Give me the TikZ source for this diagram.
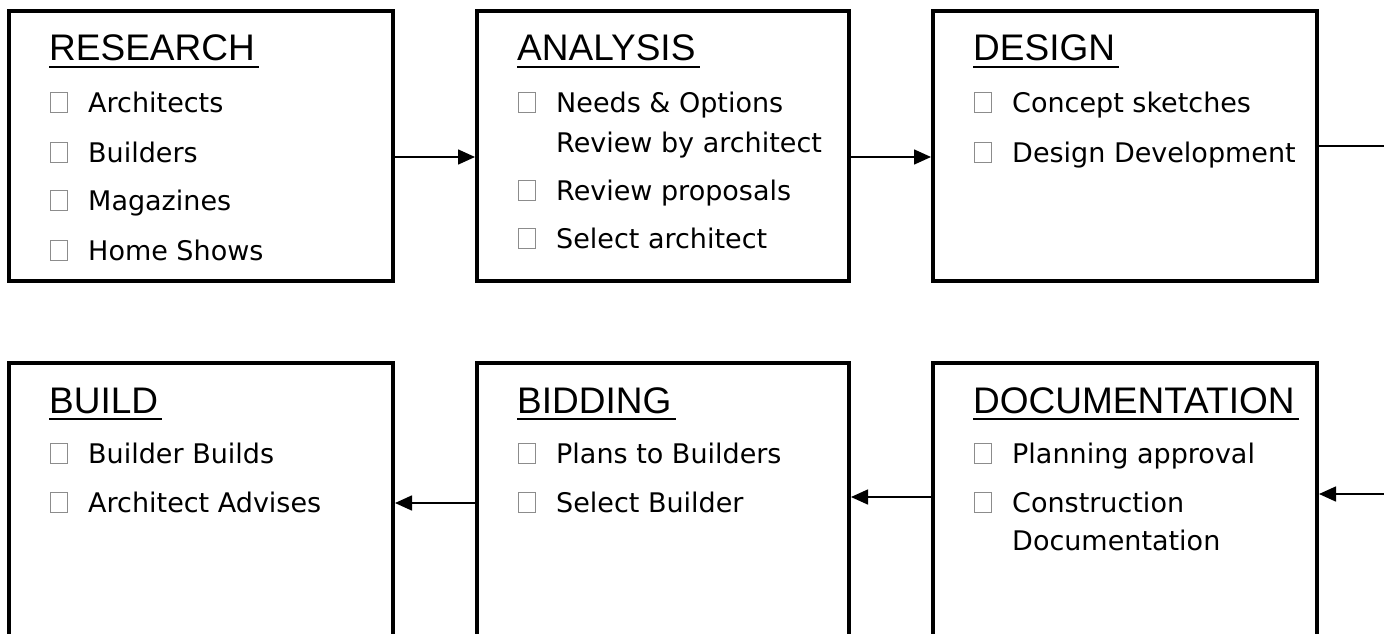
\documentclass[tikz,border=0pt]{standalone}
\usepackage{fontspec}
\setmainfont{DejaVu Sans}
\newfontfamily\headfont{Liberation Sans}
\usetikzlibrary{positioning,arrows.meta}
\definecolor{boxgray}{HTML}{8C8C8C}
\newcommand{\chkbox}{\textcolor{boxgray}{\fboxsep=0pt\fboxrule=1pt\fbox{\rule{0pt}{19pt}\hspace{16pt}}}\hspace{20pt}}
\tikzstyle{stage}=[rectangle,draw,line width=4.3pt,outer sep=0pt,anchor=north west,
    minimum width=384pt,minimum height=270pt]
\tikzstyle{head}=[anchor=base west,inner sep=0pt,font=\headfont\fontsize{37}{40}\selectfont]
\tikzstyle{item}=[anchor=base west,inner sep=0pt,font=\fontsize{27}{32}\selectfont]
\tikzstyle{uline}=[line width=2.5pt]
\tikzstyle{flow}=[->,line width=1.6pt,shorten >=2pt]

\begin{document}
\begin{tikzpicture}[x=1pt,y=-1pt,>={Triangle[length=17pt,width=15pt]}]
  \clip (0,0) rectangle (1384,634);

  % top row
  \node[stage] (research) at (9,11) {};
  \node[stage,minimum width=372pt] (analysis) at (477,11) {};
  \node[stage] (design) at (933,11) {};

  % bottom row, cut off at the page edge
  \node[stage,minimum height=276pt] (build) at (9,363) {};
  \node[stage,minimum height=276pt,minimum width=372pt] (bidding) at (477,363) {};
  \node[stage,minimum height=276pt] (documentation) at (933,363) {};

  % research
  \node[head] (researchT) at ([shift={(40,50)}]research.north west) {RESEARCH};
  \node[item] (research1) at ([shift={(41,101)}]research.north west) {\chkbox Architects};
  \node[item] (research2) at ([shift={(41,151)}]research.north west) {\chkbox Builders};
  \node[item] (research3) at ([shift={(41,199)}]research.north west) {\chkbox Magazines};
  \node[item] (research4) at ([shift={(41,249)}]research.north west) {\chkbox Home Shows};

  % analysis
  \node[head] (analysisT) at ([shift={(40,50)}]analysis.north west) {ANALYSIS};
  \node[item] (analysis1) at ([shift={(41,101)}]analysis.north west) {\chkbox Needs \& Options};
  \node[item] (analysis1b) at ([shift={(79,141)}]analysis.north west) {Review by architect};
  \node[item] (analysis2) at ([shift={(41,189)}]analysis.north west) {\chkbox Review proposals};
  \node[item] (analysis3) at ([shift={(41,237)}]analysis.north west) {\chkbox Select architect};

  % design
  \node[head] (designT) at ([shift={(40,50)}]design.north west) {DESIGN};
  \node[item] (design1) at ([shift={(41,101)}]design.north west) {\chkbox Concept sketches};
  \node[item] (design2) at ([shift={(41,151)}]design.north west) {\chkbox Design Development};

  % build
  \node[head] (buildT) at ([shift={(40,50)}]build.north west) {BUILD};
  \node[item] (build1) at ([shift={(41,100)}]build.north west) {\chkbox Builder Builds};
  \node[item] (build2) at ([shift={(41,149)}]build.north west) {\chkbox Architect Advises};

  % bidding
  \node[head] (biddingT) at ([shift={(40,50)}]bidding.north west) {BIDDING};
  \node[item] (bidding1) at ([shift={(41,100)}]bidding.north west) {\chkbox Plans to Builders};
  \node[item] (bidding2) at ([shift={(41,149)}]bidding.north west) {\chkbox Select Builder};

  % documentation
  \node[head] (documentationT) at ([shift={(40,50)}]documentation.north west) {DOCUMENTATION};
  \node[item] (documentation1) at ([shift={(41,100)}]documentation.north west) {\chkbox Planning approval};
  \node[item] (documentation2) at ([shift={(41,149)}]documentation.north west) {\chkbox Construction};
  \node[item] (documentation2b) at ([shift={(79,187)}]documentation.north west) {Documentation};

  % underlines
  \foreach \t in {researchT,analysisT,designT,buildT,biddingT,documentationT}
    \draw[uline] ([yshift=-6pt]\t.base west) -- ([yshift=-6pt,xshift=4pt]\t.base east);

  % connectors
  \coordinate (exitR) at (1390,146);
  \coordinate (entryR) at (1390,494);
  \draw[flow] ([yshift=-11pt]research.east) -- ([yshift=-11pt]analysis.west);
  \draw[flow] ([yshift=-11pt]analysis.east) -- ([yshift=-11pt]design.west);
  \draw[line width=1.6pt] (design.east) -- (exitR);
  \draw[flow] (entryR) -- ([yshift=7pt]documentation.east);
  \draw[flow] ([yshift=4pt]documentation.west) -- ([yshift=4pt]bidding.east);
  \draw[flow] ([yshift=-2pt]bidding.west) -- ([yshift=-2pt]build.east);
\end{tikzpicture}
\end{document}
